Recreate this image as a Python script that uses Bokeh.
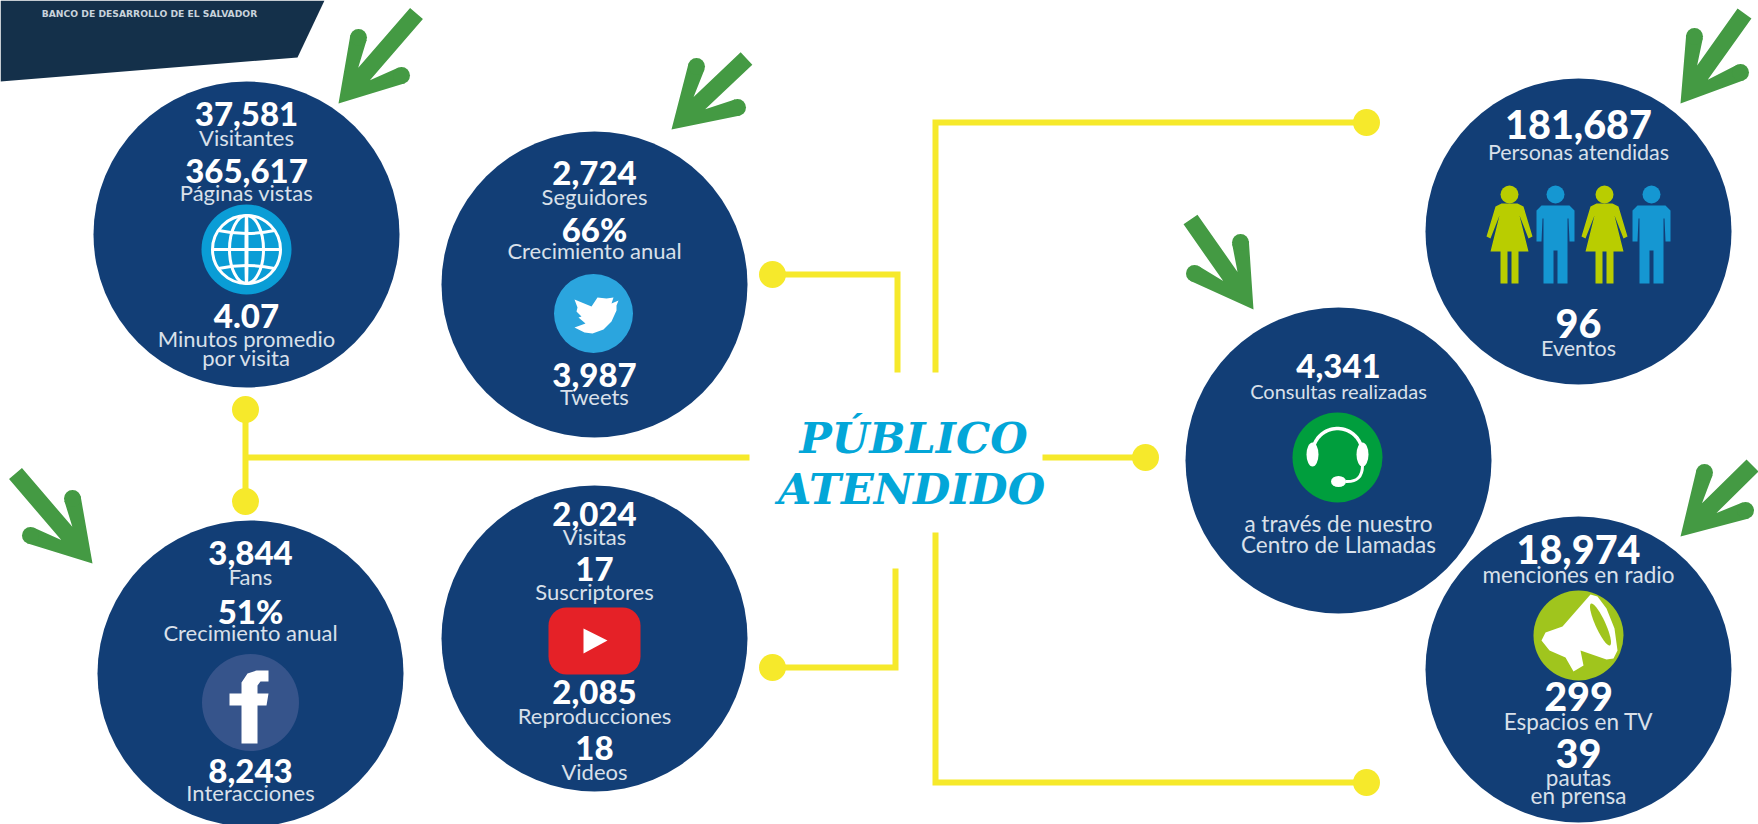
import numpy as np
from bokeh.plotting import figure
from bokeh.models import Range1d
from bokeh.core.properties import value
from bokeh.embed import file_html
from bokeh.resources import INLINE

# ---------- content ----------
title_lines = ["PÚBLICO", "ATENDIDO"]
org_name = "BANCO DE DESARROLLO DE EL SALVADOR"

web_values = ["37,581", "365,617", "4.07"]
web_labels = ["Visitantes", "Páginas vistas", "Minutos promedio", "por visita"]
twitter_values = ["2,724", "66%", "3,987"]
twitter_labels = ["Seguidores", "Crecimiento anual", "Tweets"]
facebook_values = ["3,844", "51%", "8,243"]
facebook_labels = ["Fans", "Crecimiento anual", "Interacciones"]
youtube_values = ["2,024", "17", "2,085", "18"]
youtube_labels = ["Visitas", "Suscriptores", "Reproducciones", "Videos"]
people_values = ["181,687", "96"]
people_labels = ["Personas atendidas", "Eventos"]
call_values = ["4,341"]
call_labels = ["Consultas realizadas", "a través de nuestro", "Centro de Llamadas"]
media_values = ["18,974", "299", "39"]
media_labels = ["menciones en radio", "Espacios en TV", "pautas", "en prensa"]

# ---------- layout (page pixels) ----------
R = 153
NAVY = "#123e76"
YEL = "#f6e92b"
GREEN = "#449a43"
WHITE = "#ffffff"
LABEL = "#d9e0ea"

panels = [
    (web_values, [113, 170, 315], 33, web_labels, [137, 192, 338, 357], [22] * 4, 246, 234),
    (twitter_values, [172, 228, 374], 33, twitter_labels, [196, 250, 396], [22] * 3, 594, 284),
    (facebook_values, [552, 610, 770], 33, facebook_labels, [576, 632, 792], [22] * 3, 250, 673),
    (youtube_values, [513, 568, 691, 747], 33, youtube_labels, [536, 591, 715, 771], [22] * 4, 594, 638),
    (people_values, [124, 323], 39.5, people_labels, [151, 347], [21.5] * 2, 1578, 231),
    (call_values, [365], 33, call_labels, [390, 523, 544], [20, 22.5, 22.5], 1338, 460),
    (media_values, [549, 696, 753], 39.5, media_labels, [574, 721, 777, 795], [22.5] * 4, 1578, 669),
]

p = figure(width=1758, height=824, x_range=Range1d(0, 1758), y_range=Range1d(824, 0),
           output_backend="svg", toolbar_location=None, min_border=0)
p.axis.visible = False
p.grid.visible = False
p.outline_line_color = None
p.background_fill_color = WHITE
p.border_fill_color = WHITE

# header band
p.patch([0, 324, 297, 0], [0, 0, 57, 81], fill_color="#14304a", line_color=None)
p.text([149], [13], text=[org_name], text_color="#c9d3dc", text_font=value("DejaVu Sans"),
       text_font_size="9.2px", text_font_style="bold", text_align="center", text_baseline="middle")

# connectors
conn = [
    ([245, 245], [409, 501]),
    ([245, 749], [457, 457]),
    ([772, 897, 897], [274, 274, 372]),
    ([772, 895, 895], [667, 667, 568]),
    ([935, 935, 1366], [372, 122, 122]),
    ([935, 935, 1366], [532, 782, 782]),
    ([1042, 1145], [457, 457]),
]
for xs, ys in conn:
    p.line(xs, ys, line_color=YEL, line_width=6, line_join="miter")
dots = [(245, 409), (245, 501), (772, 274), (772, 667), (1366, 122), (1366, 782), (1145, 457)]
p.circle([d[0] for d in dots], [d[1] for d in dots], radius=13.5, fill_color=YEL, line_color=None)

# navy discs
p.circle([q[6] for q in panels], [q[7] for q in panels], radius=R, fill_color=NAVY, line_color=None)

# ---------- arrows: tip, barb ends, shaft end ----------
arrows = [
    ((338, 103), (358, 37), (401, 75), (416, 13)),
    ((671, 129), (696, 66), (737, 107), (746, 58)),
    ((92, 563), (72, 498), (30, 535), (15, 473)),
    ((1253, 309), (1240, 242), (1194, 273), (1190, 219)),
    ((1680, 103), (1694, 36), (1740, 72), (1744, 13)),
    ((1680, 536), (1704, 472), (1745, 510), (1752, 465)),
]
W = 17

def intersect(p0, d0, p1, d1):
    m = np.array([d0, -d1]).T
    s = np.linalg.solve(m, p1 - p0)
    return p0 + s[0] * d0

def arrow_outline(T, A, B, S):
    T, A, B, S = (np.array(v, float) for v in (T, A, B, S))
    sd = (S - T) / np.hypot(*(S - T))
    sn = np.array([-sd[1], sd[0]])
    def side(E):
        s = np.sign(np.dot(E - T, sn))
        d = (E - T) / np.hypot(*(E - T))
        n = np.array([-d[1], d[0]])
        if np.dot(n, sn) * s < 0:
            n = -n
        outer = E + n * W / 2
        inner = E - n * W / 2
        edge = S + sn * s * W / 2
        notch = intersect(inner, d, edge, sd)
        return outer, inner, notch, edge
    oa, ia, na, ea = side(A)
    ob, ib, nb, eb = side(B)
    return [T, oa, ia, na, ea, eb, nb, ib, ob]

for T, A, B, S in arrows:
    pts = arrow_outline(T, A, B, S)
    p.patch([q[0] for q in pts], [q[1] for q in pts], fill_color=GREEN, line_color=None)
    p.circle([A[0], B[0]], [A[1], B[1]], radius=W / 2, fill_color=GREEN, line_color=None)

# ---------- icons ----------
# globe
gx, gy = 246, 249
p.circle([gx], [gy], radius=45, fill_color="#0a9dd6", line_color=None)
p.ellipse([gx, gx, gx], [gy, gy, gy], width=[68, 34, 1], height=[68, 68, 68],
          fill_color=None, line_color=WHITE, line_width=3)
p.segment([gx - 34], [gy], [gx + 34], [gy], line_color=WHITE, line_width=3)
p.quadratic([gx - 28, gx - 28], [gy - 19, gy + 19], [gx + 28, gx + 28], [gy - 19, gy + 19],
            [gx, gx], [gy - 13, gy + 13], line_color=WHITE, line_width=3)

# twitter
p.circle([593], [313], radius=39.5, fill_color="#2ba5de", line_color=None)
bx = [618, 611, 613, 606, 597, 591, 574, 577, 576, 581, 578, 585, 574, 584, 592, 603, 611, 616, 616]
by = [300, 303, 297, 298, 297, 306, 299, 307, 311, 316, 317, 323, 327, 332, 333, 329, 321, 310, 305]
p.patch(bx, by, fill_color=WHITE, line_color=None)

# facebook
p.circle([250], [702], radius=48.5, fill_color="#36548b", line_color=None)
fx = [241, 257, 257, 266, 268, 257, 257, 260, 268, 268, 256, 247, 241, 241, 229, 229, 241]
fy = [743, 743, 705, 705, 693, 693, 685, 681, 681, 670, 670, 673, 682, 693, 693, 705, 705]
p.patch(fx, fy, fill_color=WHITE, line_color=None)

# youtube
p.quad(left=[548], right=[640], top=[607], bottom=[674], border_radius=18,
       fill_color="#e52127", line_color=None)
p.patch([583, 607, 583], [628, 640, 653], fill_color=WHITE, line_color=None)

# people
def man(c):
    px = [-14, 14, 19, 19, 14, 13, 12, 12, 2, 2, -2, -2, -12, -12, -13, -14, -19, -19]
    py = [205, 205, 210, 241, 241, 218, 218, 283, 283, 250, 250, 283, 283, 218, 218, 241, 241, 210]
    p.patch([c + v for v in px], py, fill_color="#1597d2", line_color=None)
    p.circle([c], [194], radius=9, fill_color="#1597d2", line_color=None)
def woman(c):
    px = [-8, 8, 14, 23, 19, 10, 19, 9, 9, 2, 2, -2, -2, -9, -9, -19, -10, -19, -23, -14]
    py = [203, 203, 206, 236, 238, 215, 251, 251, 283, 283, 251, 251, 283, 283, 251, 251, 215, 238, 236, 206]
    p.patch([c + v for v in px], py, fill_color="#b9cd00", line_color=None)
    p.circle([c], [194], radius=9, fill_color="#b9cd00", line_color=None)
woman(1509); man(1555); woman(1604); man(1651)

# headset
hx, hy = 1337, 457
p.circle([hx], [hy], radius=45, fill_color="#009e3d", line_color=None)
t = np.linspace(np.pi, 2 * np.pi, 40)
p.line(hx + 25 * np.cos(t), 453 + 25 * np.sin(t), line_color=WHITE, line_width=3.5)
p.ellipse([1312, 1362], [454, 454], width=[12, 12], height=[24, 24], fill_color=WHITE, line_color=None)
p.quadratic([1362], [465], [1345], [481], [1362], [482], line_color=WHITE, line_width=3)
p.ellipse([1338], [481], width=[15], height=[11], fill_color=WHITE, line_color=None)

# megaphone
MEGA = "#a0c51d"
p.circle([1578], [635], radius=45, fill_color=MEGA, line_color=None)
hx_ = [1583, 1590, 1597, 1606, 1614, 1617, 1613, 1606, 1580, 1583, 1573, 1565, 1549, 1541, 1545, 1562]
hy_ = [602, 594, 596, 608, 628, 650, 658, 659, 650, 665, 671, 657, 650, 640, 632, 626]
p.patch(hx_, hy_, fill_color=WHITE, line_color=None)
u = np.linspace(0, 2 * np.pi, 40)
axis = np.array([19.0, 42.0]) / np.hypot(19, 42)
perp = np.array([-axis[1], axis[0]])
p.patch(1600 + 23 * np.cos(u) * axis[0] + 5 * np.sin(u) * perp[0],
        624 + 23 * np.cos(u) * axis[1] + 5 * np.sin(u) * perp[1],
        fill_color=MEGA, line_color=None)

# ---------- texts ----------
for vals, vy, vs, labs, ly, ls, cx, cy in panels:
    p.text([cx] * len(vals), vy, text=vals, text_color=WHITE, text_font=value("Lato Black"),
           text_font_size=f"{vs}px", text_align="center", text_baseline="middle")
    for lab, y, size in zip(labs, ly, ls):
        p.text([cx], [y], text=[lab], text_color=LABEL, text_font=value("Lato"),
               text_font_size=f"{size}px", text_align="center", text_baseline="middle")

p.text([913, 911], [437, 488], text=title_lines, text_color="#03a6d8", text_font=value("DejaVu Serif"),
       text_font_style="bold italic", text_font_size="43px", text_align="center", text_baseline="middle")

open("out.html", "w").write(file_html(p, INLINE))
